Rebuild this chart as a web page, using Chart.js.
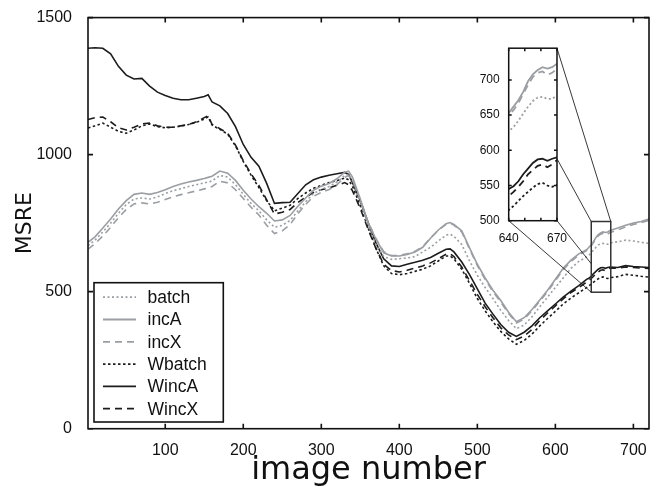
<!DOCTYPE html>
<html><head><meta charset="utf-8">
<script src="https://cdn.jsdelivr.net/npm/chart.js@4/dist/chart.umd.min.js"></script>
<style>
html,body{margin:0;padding:0;background:#fff;}
#wrap{position:relative;width:658px;height:487px;overflow:hidden;}
#main{position:absolute;left:0;top:0;}
#inset{position:absolute;left:470px;top:40px;}
</style></head><body>
<div id="wrap"><canvas id="main" width="658" height="487"></canvas><canvas id="inset" width="100" height="205"></canvas></div>
<script>
// ---------------- DATA ----------------
const imageNumber = [1,10,20,30,40,50,60,70,80,90,100,110,120,130,140,150,155,160,170,180,190,200,210,220,230,240,250,260,270,280,290,300,310,320,330,335,340,350,360,370,380,390,400,410,420,430,440,450,460,465,470,480,490,500,510,520,530,540,550,560,570,580,590,600,610,620,630,640,643,646,649,652,655,658,661,664,667,670,680,690,700,710,720];

const batch = [668,688,718,750,786,818,838,842,838,846,858,868,876,884,890,897,900,904,924,918,890,855,822,795,762,735,742,760,795,828,858,873,884,900,924,928,904,828,742,672,628,618,620,623,628,645,662,685,706,710,702,672,612,560,515,475,432,395,365,378,408,445,480,515,550,585,610,627,633,642,652,662,670,675,676,673,673,678,682,688,685,680,676];
const incA = [680,700,732,765,802,832,855,860,855,862,872,884,893,900,906,913,917,921,940,932,906,870,838,810,786,758,762,778,812,842,870,885,895,912,936,940,918,838,752,692,642,630,630,636,645,662,695,725,748,752,745,722,660,600,550,505,468,425,390,405,435,470,505,545,585,615,638,653,662,671,683,698,708,714,718,716,718,723,732,742,750,756,765];
const incX = [655,675,703,735,770,800,820,824,820,826,836,846,854,861,868,875,879,884,903,897,872,840,808,780,742,712,722,745,785,818,848,862,873,890,917,924,908,835,754,694,646,632,632,638,647,664,696,724,746,750,743,718,656,595,545,500,462,420,386,400,430,465,500,540,580,610,634,650,657,667,680,693,704,710,712,707,710,716,725,736,745,752,760];
const Wbatch = [1097,1105,1115,1100,1085,1078,1090,1105,1112,1102,1098,1100,1104,1110,1118,1130,1138,1108,1092,1075,1032,975,925,880,832,795,805,815,840,860,877,888,898,905,915,908,884,813,733,658,594,566,562,566,574,582,594,612,630,630,620,582,530,475,430,390,355,328,308,322,345,375,402,428,455,477,496,515,521,528,535,541,547,552,554,550,548,551,555,563,560,556,553];
const WincA = [1388,1390,1388,1368,1322,1290,1276,1278,1250,1228,1216,1206,1200,1200,1206,1212,1218,1192,1178,1150,1102,1037,990,958,895,822,825,826,858,890,908,918,925,930,935,928,898,831,752,678,620,594,592,600,607,615,625,640,655,656,645,608,562,510,458,418,380,352,337,352,375,405,430,455,480,502,522,545,549,556,566,574,582,587,588,585,588,590,588,595,592,590,588];
const WincX = [1128,1135,1137,1120,1098,1090,1100,1112,1115,1105,1100,1100,1105,1110,1120,1135,1142,1110,1095,1078,1035,978,930,888,835,783,790,800,825,845,862,872,878,888,898,890,868,803,728,658,600,577,572,578,586,594,605,620,637,638,628,590,540,490,445,405,368,342,325,338,362,395,422,448,474,497,515,535,541,548,556,566,572,578,580,576,580,586,585,590,588,586,585];

const xTicks = [100,200,300,400,500,600,700];
const yTicks = [0,500,1000,1500];
const insetXTicks = [640,650,660,670];
const insetXLabelled = [640,670];
const insetYTicks = [500,550,600,650,700];
const zoomBox = {x0:646, x1:671, y0:498, y1:756};
const insetRange = {x0:640, x1:670, y0:500, y1:745};
// connector lines: [inset point], [main point]
const connectors = [[[670,745],[671,756]],[[670,588],[646,756]],[[670,500],[646,602]],[[640,500],[646,498]]];

// ---------------- STYLE ----------------
const GRAY = '#9b9ea2', BLACK = '#1c1c1c';
const seriesList = [
  {label:'batch',  data:batch,  color:GRAY,  dash:[2,2.5]},
  {label:'incA',   data:incA,   color:GRAY,  dash:[]},
  {label:'incX',   data:incX,   color:GRAY,  dash:[7,5]},
  {label:'Wbatch', data:Wbatch, color:BLACK, dash:[2.5,2.5]},
  {label:'WincA',  data:WincA,  color:BLACK, dash:[]},
  {label:'WincX',  data:WincX,  color:BLACK, dash:[7,5]}
];
function makeDatasets(lw){
  return seriesList.map(s => ({
    label:s.label,
    data:imageNumber.map((x,i)=>({x:x,y:s.data[i]})),
    borderColor:s.color, borderDash:s.dash, borderWidth:lw,
    pointRadius:0, tension:0, fill:false
  }));
}
const plainLabel = v => String(v);

const framePlugin = {
  id:'frame',
  afterDatasetsDraw(chart, args, opts){
    const {ctx, chartArea:a, scales:{x,y}} = chart;
    ctx.save();
    ctx.strokeStyle = '#111'; ctx.lineWidth = opts.lw; ctx.setLineDash([]);
    ctx.beginPath();
    x.ticks.forEach(t=>{
      const px = x.getPixelForValue(t.value);
      ctx.moveTo(px,a.bottom); ctx.lineTo(px,a.bottom-opts.len);
      ctx.moveTo(px,a.top); ctx.lineTo(px,a.top+opts.len);
    });
    y.ticks.forEach(t=>{
      const py = y.getPixelForValue(t.value);
      ctx.moveTo(a.left,py); ctx.lineTo(a.left+opts.len,py);
      ctx.moveTo(a.right,py); ctx.lineTo(a.right-opts.len,py);
    });
    ctx.stroke();
    ctx.strokeRect(a.left, a.top, a.right-a.left, a.bottom-a.top);
    ctx.restore();
  }
};

Chart.defaults.font.family = '"Liberation Sans", Arial, sans-serif';
Chart.defaults.color = '#111';

// ---------------- INSET ----------------
const insetChart = new Chart(document.getElementById('inset'), {
  type:'line',
  data:{datasets:makeDatasets(1.8)},
  options:{
    responsive:false, animation:false, devicePixelRatio:1,
    layout:{padding:{left:0,top:7.7,right:10.3,bottom:0}},
    plugins:{legend:{display:false}, tooltip:{enabled:false}, frame:{lw:1.5,len:3}},
    scales:{
      x:{type:'linear', min:insetRange.x0, max:insetRange.x1,
         grid:{display:false}, border:{display:false},
         afterBuildTicks:s=>{s.ticks = insetXTicks.map(v=>({value:v}));},
         afterFit:s=>{s.height = 24.3;},
         ticks:{font:{size:12}, padding:3, maxRotation:0, autoSkip:false,
                callback:v=> insetXLabelled.includes(v) ? String(v) : ''}},
      y:{type:'linear', min:insetRange.y0, max:insetRange.y1,
         grid:{display:false}, border:{display:false},
         afterBuildTicks:s=>{s.ticks = insetYTicks.map(v=>({value:v}));},
         afterFit:s=>{s.width = 38.7;},
         ticks:{font:{size:12}, padding:1, autoSkip:false, callback:plainLabel}}
    }
  },
  plugins:[framePlugin]
});

// ---------------- MAIN ----------------
const overlayPlugin = {
  id:'overlay',
  afterDatasetsDraw(chart){
    const {ctx, scales:{x,y}} = chart;
    const ix = insetChart.scales.x, iy = insetChart.scales.y;
    const offX = 470, offY = 40;
    ctx.save();
    ctx.setLineDash([]);
    ctx.strokeStyle = '#333'; ctx.lineWidth = 1.5;
    const rx0 = x.getPixelForValue(zoomBox.x0), rx1 = x.getPixelForValue(zoomBox.x1);
    const ry0 = y.getPixelForValue(zoomBox.y0), ry1 = y.getPixelForValue(zoomBox.y1);
    ctx.strokeRect(rx0, ry1, rx1-rx0, ry0-ry1);
    ctx.strokeStyle = '#222'; ctx.lineWidth = 0.9;
    ctx.beginPath();
    connectors.forEach(([p,q])=>{
      ctx.moveTo(ix.getPixelForValue(p[0])+offX, iy.getPixelForValue(p[1])+offY);
      ctx.lineTo(x.getPixelForValue(q[0]), y.getPixelForValue(q[1]));
    });
    ctx.stroke();
    ctx.restore();
  },
  afterDraw(chart){
    const ctx = chart.ctx;
    ctx.save();
    const bx=94, by=282.7, bw=129.3, bh=139.3;
    ctx.fillStyle='#fff'; ctx.fillRect(bx,by,bw,bh);
    ctx.strokeStyle='#111'; ctx.lineWidth=1.6; ctx.setLineDash([]);
    ctx.strokeRect(bx,by,bw,bh);
    ctx.font = '17.5px "Liberation Sans", Arial, sans-serif';
    ctx.textBaseline='middle'; ctx.textAlign='left';
    chart.data.datasets.forEach((ds,i)=>{
      const cy = 297.2 + i*22.3;
      ctx.strokeStyle = ds.borderColor; ctx.lineWidth = 1.8;
      ctx.setLineDash(ds.borderDash);
      ctx.beginPath(); ctx.moveTo(103,cy); ctx.lineTo(136,cy); ctx.stroke();
      ctx.setLineDash([]);
      ctx.fillStyle='#111';
      ctx.fillText(ds.label, 147.5, cy+1);
    });
    ctx.restore();
  }
};

new Chart(document.getElementById('main'), {
  type:'line',
  data:{datasets:makeDatasets(1.6)},
  options:{
    responsive:false, animation:false, devicePixelRatio:1,
    layout:{padding:{left:0,top:16,right:9,bottom:0}},
    plugins:{legend:{display:false}, tooltip:{enabled:false}, frame:{lw:1.6,len:5}},
    scales:{
      x:{type:'linear', min:1, max:720,
         grid:{display:false}, border:{display:false},
         afterBuildTicks:s=>{s.ticks = xTicks.map(v=>({value:v}));},
         afterFit:s=>{s.height = 58.3;},
         ticks:{font:{size:16}, padding:4, maxRotation:0, autoSkip:false, callback:plainLabel},
         title:{display:true, text:'image number', padding:{top:0,bottom:0},
                font:{family:'"DejaVu Sans", sans-serif', size:32, lineHeight:1.0}}},
      y:{type:'linear', min:0, max:1500,
         grid:{display:false}, border:{display:false},
         afterBuildTicks:s=>{s.ticks = yTicks.map(v=>({value:v}));},
         afterFit:s=>{s.width = 88;},
         ticks:{font:{size:16}, padding:8, autoSkip:false, callback:plainLabel},
         title:{display:true, text:'MSRE', padding:{top:12.5,bottom:0},
                font:{family:'"DejaVu Sans", sans-serif', size:22, lineHeight:1.2}}}
    }
  },
  plugins:[framePlugin, overlayPlugin]
});
</script>
</body></html>
